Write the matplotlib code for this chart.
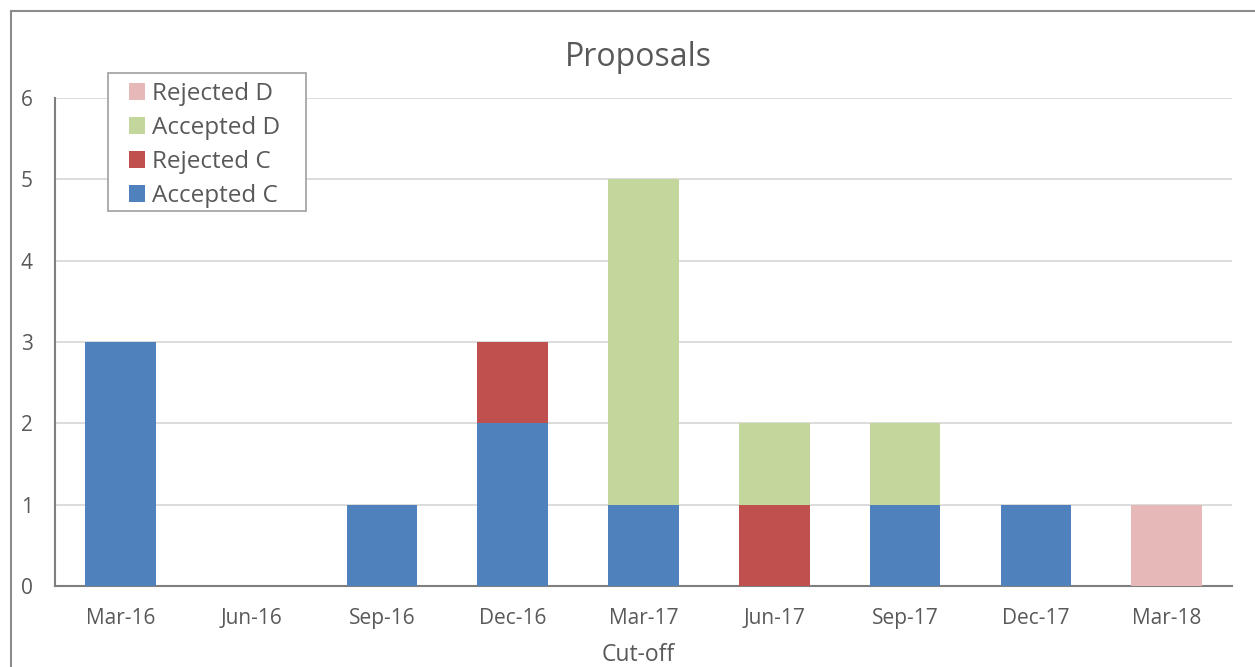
import numpy as np
import matplotlib
matplotlib.use("Agg")
import matplotlib.pyplot as plt
from matplotlib.lines import Line2D
from matplotlib.patches import Rectangle

plt.rcParams['font.family'] = ['Open Sans', 'DejaVu Sans']

# データ
cutoffs = ["Mar-16", "Jun-16", "Sep-16", "Dec-16", "Mar-17", "Jun-17", "Sep-17", "Dec-17", "Mar-18"]
accepted_c = [3, 0, 1, 2, 1, 0, 1, 1, 0]
rejected_c = [0, 0, 0, 1, 0, 1, 0, 0, 0]
accepted_d = [0, 0, 0, 0, 4, 1, 1, 0, 0]
rejected_d = [0, 0, 0, 0, 0, 0, 0, 0, 1]

series = [
    ("Accepted C", accepted_c, "#4F81BD"),
    ("Rejected C", rejected_c, "#C0504D"),
    ("Accepted D", accepted_d, "#C3D69B"),
    ("Rejected D", rejected_d, "#E6B9B8"),
]

W, H = 1255, 667
fig = plt.figure(figsize=(W / 100, H / 100), dpi=100)
ax = fig.add_axes([55 / W, 1 - 586 / H, (1232 - 55) / W, (586 - 98) / H])

x = np.arange(len(cutoffs))
bottom = np.zeros(len(cutoffs))
for name, vals, col in series:
    ax.bar(x, vals, bottom=bottom, width=0.54, color=col, label=name, zorder=3)
    bottom += np.array(vals)

ax.set_xlim(-0.5, len(cutoffs) - 0.5)
ax.set_ylim(0, 6)
ax.set_yticks(range(0, 7))
ax.set_xticks(x)
ax.set_xticklabels(cutoffs)
ax.tick_params(axis='both', length=0, labelsize=15, colors="#595959")
ax.tick_params(axis='x', pad=15.5)
ax.tick_params(axis='y', pad=16)
ax.grid(axis='y', color="#D9D9D9", linewidth=1.3, zorder=0)

for s in ["top", "right"]:
    ax.spines[s].set_visible(False)
ax.spines["left"].set_color("#7F7F7F")
ax.spines["left"].set_linewidth(1.5)
ax.spines["bottom"].set_color("#7F7F7F")
ax.spines["bottom"].set_linewidth(1.5)

fig.text(638 / W, 1 - 655 / H, "Cut-off", ha='center', va='center', fontsize=16.5, color="#595959")
fig.text(638 / W, 1 - 57 / H, "Proposals", ha='center', va='center', fontsize=23, color="#595959")

# 凡例（上から Rejected D → Accepted C）
handles, labels = ax.get_legend_handles_labels()
leg = fig.legend(handles[::-1], labels[::-1], loc='upper left',
                 bbox_to_anchor=(129 / W, 1 - 82 / H), fontsize=17.5, frameon=False,
                 handlelength=0.66, handleheight=0.66, handletextpad=0.3,
                 labelspacing=0.41, borderpad=0, borderaxespad=0,
                 labelcolor="#595959")
fig.add_artist(Rectangle((108 / W, 1 - 211 / H), (306 - 108) / W, (211 - 73) / H,
                         transform=fig.transFigure, facecolor="white",
                         edgecolor="#A6A6A6", lw=1.3, zorder=2.5))
leg.set_zorder(3)

# 外枠（左と上のみ見える）
fig.add_artist(Line2D([11 / W, 11 / W], [0, 1 - 11 / H], color="#8C8C8C", lw=1.5))
fig.add_artist(Line2D([11 / W, 1], [1 - 11 / H, 1 - 11 / H], color="#8C8C8C", lw=1.5))

fig.savefig("out.png", dpi=100)
